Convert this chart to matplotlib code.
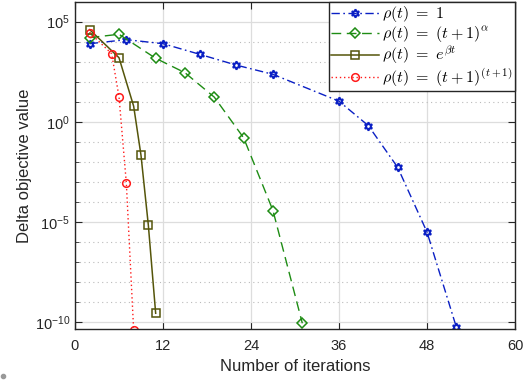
import numpy as np
import matplotlib
matplotlib.use("Agg")
import matplotlib.pyplot as plt
from matplotlib.lines import Line2D
from matplotlib.ticker import FixedLocator, NullFormatter

plt.rcParams['font.family'] = ['Liberation Sans', 'DejaVu Sans']
plt.rcParams['mathtext.fontset'] = 'cm'

# data (iteration, log10 of delta objective value)
x_const = [2, 7, 12, 17, 22, 27, 36, 40, 44, 48, 52]
y_const = [3.9, 4.1, 3.9, 3.37, 2.83, 2.37, 1.03, -0.19, -2.27, -5.5, -10.24]
x_poly = [2, 6, 11, 15, 19, 23, 27, 31]
y_poly = [4.2, 4.37, 3.17, 2.45, 1.23, -0.8, -4.43, -10.05]
x_exp = [2, 6, 8, 9, 10, 11]
y_exp = [4.6, 3.2, 0.78, -1.67, -5.15, -9.55]
x_super = [2, 5, 6, 7, 8]
y_super = [4.45, 3.4, 1.25, -3.05, -10.4]

labels = [r'$\rho(t)\ =\ 1$', r'$\rho(t)\ =\ (t+1)^{\alpha}$',
          r'$\rho(t)\ =\ e^{\beta t}$', r'$\rho(t)\ =\ (t+1)^{(t+1)}$']
xticks = [0, 12, 24, 36, 48, 60]

fig = plt.figure(figsize=(5.3, 3.81), dpi=100)
ax = fig.add_axes([0.1415, 0.1357, 0.8302, 0.8591])

hexagram = (6, 1, 0)
ax.plot(x_const, 10**np.array(y_const), color='#0a1fc4', ls=(0, (6, 2.5, 1.2, 2.5)), lw=1.0,
        marker=hexagram, ms=6, mfc='none', mew=1.4, label=labels[0])
ax.plot(x_poly, 10**np.array(y_poly), color='#1e8c14', ls=(0, (7, 4)), lw=1.0,
        marker='D', ms=5, mfc='none', mew=1.1, label=labels[1])
ax.plot(x_exp, 10**np.array(y_exp), color='#55550a', ls='-', lw=1.1,
        marker='s', ms=5.5, mfc='none', mew=1.1, label=labels[2])
ax.plot(x_super, 10**np.array(y_super), color='#ff1a1a', ls=(0, (1, 2)), lw=1.0,
        marker='o', ms=5.5, mfc='none', mew=1.1, label=labels[3])

ax.set_yscale('log')
ax.set_xlim(0, 60)
ax.set_ylim(10**-10.35, 10**5.98)
ax.set_xticks(xticks)
ax.yaxis.set_major_locator(FixedLocator([1e-10, 1e-5, 1e0, 1e5]))
ax.yaxis.set_minor_locator(FixedLocator([10.0**k for k in range(-10, 6) if k % 5 != 0]))
ax.yaxis.set_minor_formatter(NullFormatter())

ax.grid(True, which='major', color='#dddddd', lw=0.9, ls='-')
ax.grid(True, which='minor', axis='y', color='#bbbbbb', lw=0.8, ls=(0, (1, 3)))
ax.set_axisbelow(True)

ax.tick_params(which='both', direction='in', top=True, right=True, colors='#262626',
               labelsize=10.5, labelcolor='#262626')
ax.tick_params(which='major', length=5)
ax.tick_params(which='minor', length=3)
ax.tick_params(axis='x', pad=7)
for s in ax.spines.values():
    s.set_color('#262626')
    s.set_linewidth(1.0)

ax.set_xlabel('Number of iterations', fontsize=12, color='#262626', labelpad=4)
ax.set_ylabel('Delta objective value', fontsize=12, color='#262626', labelpad=2)

leg = ax.legend(loc='upper right', fontsize=11.5, fancybox=False, framealpha=1,
                edgecolor='#262626', borderaxespad=0, handlelength=3.0,
                handletextpad=0.2, labelspacing=0.0, borderpad=0.15)
leg.get_frame().set_linewidth(1.0)

fig.add_artist(Line2D([0.006], [0.012], marker='o', ms=3, color='#999999',
                      transform=fig.transFigure))

fig.savefig('out.png', dpi=100)
